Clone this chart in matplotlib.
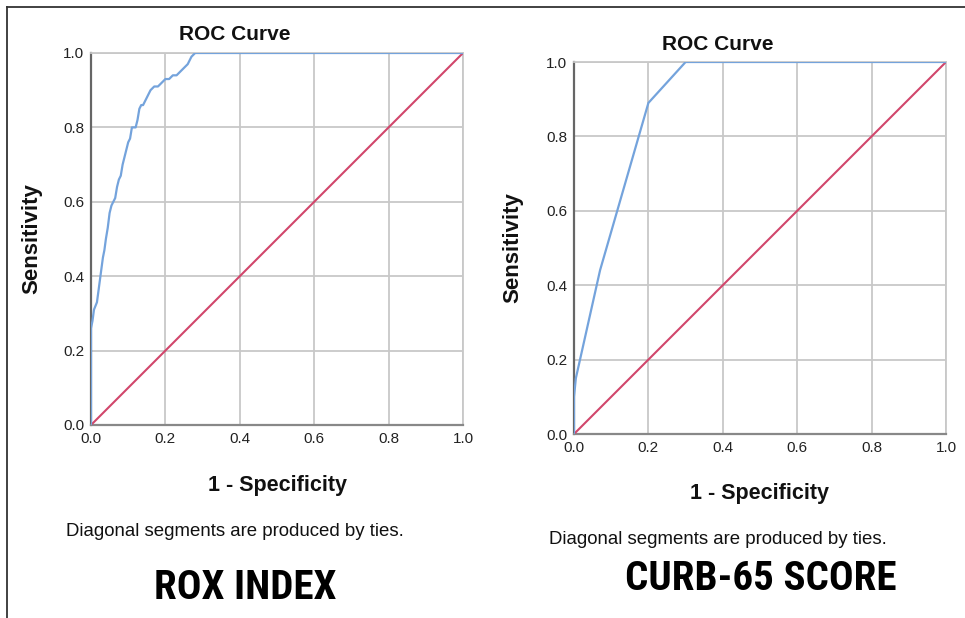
import matplotlib
matplotlib.use("Agg")
import matplotlib.pyplot as plt
from matplotlib.lines import Line2D
from matplotlib import font_manager

# ---- data ----
rox_fpr = [0.0, 0.0, 0.0, 0.004, 0.008, 0.012, 0.016, 0.020, 0.024, 0.028, 0.032, 0.036,
           0.040, 0.045, 0.050, 0.055, 0.060, 0.065, 0.070, 0.075, 0.080, 0.085, 0.090,
           0.095, 0.100, 0.105, 0.110, 0.115, 0.120, 0.125, 0.130, 0.135, 0.140, 0.145,
           0.150, 0.155, 0.160, 0.170, 0.180, 0.190, 0.200, 0.210, 0.220, 0.230, 0.240,
           0.250, 0.260, 0.270, 0.280, 1.0]
rox_tpr = [0.0, 0.20, 0.26, 0.28, 0.31, 0.32, 0.33, 0.36, 0.39, 0.42, 0.45, 0.47,
           0.50, 0.53, 0.57, 0.59, 0.60, 0.61, 0.64, 0.66, 0.67, 0.70, 0.72,
           0.74, 0.76, 0.77, 0.80, 0.80, 0.80, 0.82, 0.85, 0.86, 0.86, 0.87,
           0.88, 0.89, 0.90, 0.91, 0.91, 0.92, 0.93, 0.93, 0.94, 0.94, 0.95,
           0.96, 0.97, 0.99, 1.0, 1.0]
curb_fpr = [0.0, 0.0, 0.005, 0.07, 0.20, 0.30, 1.0]
curb_tpr = [0.0, 0.10, 0.15, 0.44, 0.89, 1.0, 1.0]
ref_line = [0.0, 1.0]
ticks = [0.0, 0.2, 0.4, 0.6, 0.8, 1.0]
tick_labels = ["0.0", "0.2", "0.4", "0.6", "0.8", "1.0"]
panel_titles = ["ROX INDEX", "CURB-65 SCORE"]

BLUE = "#74a3dc"
RED = "#d1466b"
GRID = "#c8c8c8"

plt.rcParams['font.family'] = ['Liberation Sans', 'DejaVu Sans']
names = {f.name for f in font_manager.fontManager.ttflist}
big_family = None
big_size = 24
for cand in ['Liberation Sans Narrow', 'Roboto Condensed', 'DejaVu Sans Condensed',
             'Open Sans Condensed', 'Noto Sans Condensed']:
    if cand in names:
        big_family = [cand, 'Liberation Sans']
        big_size = 29.5
        break
if big_family is None:
    big_family = ['Liberation Sans']

W, H = 965, 618
fig = plt.figure(figsize=(W / 100, H / 100), dpi=100)
fig.patch.set_facecolor("white")

def fx(px):
    return px / W

def fy(py):
    return 1 - py / H

# frame lines
fig.add_artist(Line2D([fx(7), 1.0], [fy(7), fy(7)], color="#333333", lw=1.3, transform=fig.transFigure))
fig.add_artist(Line2D([fx(7), fx(7)], [fy(7), 0.0], color="#333333", lw=1.3, transform=fig.transFigure))

panels = [
    dict(x0=91, ytop=53, fpr=rox_fpr, tpr=rox_tpr, title_x=235, title_y=35,
         xl_y=485, yl_x=32, diag_x=235, diag_y=531, big_x=245, big_y=588, name=panel_titles[0]),
    dict(x0=574, ytop=62, fpr=curb_fpr, tpr=curb_tpr, title_x=718, title_y=44,
         xl_y=494, yl_x=513, diag_x=718, diag_y=540, big_x=761, big_y=579, name=panel_titles[1]),
]
size = 372
for p in panels:
    ax = fig.add_axes([fx(p['x0']), fy(p['ytop'] + size), size / W, size / H])
    ax.plot(ref_line, ref_line, color=RED, lw=1.5, zorder=3)
    ax.plot(p['fpr'], p['tpr'], color=BLUE, lw=1.6, zorder=4)
    ax.set_xlim(0, 1)
    ax.set_ylim(0, 1)
    ax.set_xticks(ticks)
    ax.set_yticks(ticks)
    ax.set_xticklabels(tick_labels)
    ax.set_yticklabels(tick_labels)
    ax.grid(True, color=GRID, lw=1.3, zorder=0)
    ax.set_axisbelow(True)
    for s in ['top', 'right']:
        ax.spines[s].set_color(GRID)
        ax.spines[s].set_linewidth(1.3)
    ax.spines['left'].set_color("#666666")
    ax.spines['left'].set_linewidth(1.6)
    ax.spines['bottom'].set_color("#888888")
    ax.spines['bottom'].set_linewidth(1.6)
    ax.tick_params(axis='both', length=0, labelsize=11, colors="#222222", pad=5)

    cx = p['x0'] + size / 2
    fig.text(fx(p['title_x']), fy(p['title_y']), "ROC Curve", ha='center', va='center',
             fontsize=15, fontweight='bold', color="#111111")
    fig.text(fx(cx), fy(p['xl_y']), "1 - Specificity", ha='center', va='center',
             fontsize=15.5, fontweight='bold', color="#111111")
    fig.text(fx(p['yl_x']), fy(p['ytop'] + size / 2), "Sensitivity", ha='center', va='center',
             rotation=90, fontsize=16, fontweight='bold', color="#111111")
    fig.text(fx(p['diag_x']), fy(p['diag_y']), "Diagonal segments are produced by ties.",
             ha='center', va='center', fontsize=13.4, color="#111111")
    fig.text(fx(p['big_x']), fy(p['big_y']), p['name'], ha='center', va='center',
             fontsize=big_size, fontweight='heavy', family=big_family, color="#000000")

fig.savefig("out.png", dpi=100, facecolor="white")
